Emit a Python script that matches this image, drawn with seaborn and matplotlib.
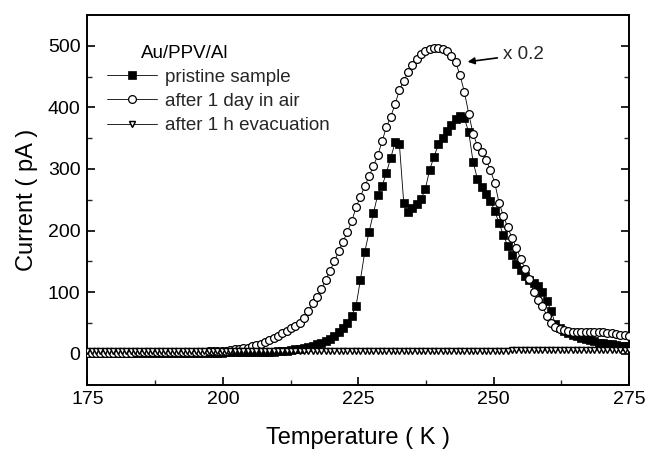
import numpy as np
import pandas as pd
import matplotlib
matplotlib.use("Agg")
import matplotlib.pyplot as plt
import seaborn as sns

# ---- data ----
temperature = np.linspace(175, 275, 126)  # measurement grid, 0.8 K steps

pristine = [
    1, 1, 1, 1, 1, 1, 1, 1, 1, 1,
    1, 1, 1, 1, 1, 1, 1, 1, 1, 1,
    1, 1, 1, 1, 1, 1, 1, 1, 1, 1,
    1, 1, 2, 2, 2, 2, 2, 2, 2, 2,
    2, 3, 3, 3, 4, 5, 5, 6, 7, 8,
    10, 11, 13, 15, 17, 20, 24, 29, 35, 42,
    50, 62, 78, 120, 165, 198, 228, 258, 272, 294,
    318, 343, 340, 245, 230, 237, 243, 251, 268, 299,
    320, 340, 350, 361, 372, 381, 386, 382, 360, 312,
    284, 270, 260, 248, 232, 212, 193, 175, 160, 146,
    136, 126, 119, 115, 110, 100, 86, 70, 48, 42,
    37, 33, 30, 28, 26, 24, 22, 20, 18, 17,
    16, 15, 14, 13, 13, 12,
]

air_day = [
    1, 1, 1, 1, 1, 1, 1, 1, 1, 1,
    1, 2, 2, 2, 2, 2, 2, 2, 2, 2,
    2, 2, 3, 3, 3, 3, 3, 3, 4, 4,
    4, 5, 5, 6, 7, 8, 9, 10, 12, 14,
    16, 19, 22, 25, 29, 33, 37, 41, 45, 50,
    58, 70, 82, 92, 105, 120, 135, 150, 167, 182,
    198, 215, 238, 255, 272, 288, 305, 322, 345, 368,
    385, 405, 428, 443, 457, 468, 478, 487, 492, 495,
    496, 496, 494, 491, 484, 473, 452, 425, 390, 357,
    338, 327, 315, 298, 278, 245, 224, 205, 188, 172,
    154, 137, 122, 100, 88, 78, 62, 50, 44, 40,
    38, 37, 36, 36, 36, 35, 35, 36, 36, 35,
    34, 33, 32, 31, 30, 29,
]

evacuated = [
    4, 4, 4, 4, 4, 4, 4, 4, 4, 4,
    4, 4, 4, 4, 4, 4, 4, 4, 4, 4,
    4, 4, 4, 4, 4, 4, 4, 4, 4, 4,
    4, 4, 4, 4, 4, 4, 4, 4, 4, 4,
    4, 4, 4, 4, 4, 4, 4, 4, 4, 4,
    5, 5, 5, 5, 5, 5, 5, 5, 5, 5,
    5, 5, 5, 5, 5, 5, 5, 5, 5, 5,
    5, 5, 5, 5, 5, 5, 5, 5, 5, 5,
    5, 5, 5, 5, 5, 5, 5, 5, 5, 5,
    5, 5, 5, 5, 5, 5, 5, 5, 6, 6,
    6, 6, 6, 6, 6, 6, 6, 6, 6, 6,
    6, 6, 6, 6, 6, 6, 6, 6, 6, 6,
    6, 6, 6, 6, 6, 6,
]

series_labels = ["pristine sample", "after 1 day in air", "after 1 h evacuation"]
x_ticks = [175, 200, 225, 250, 275]
y_ticks = [0, 100, 200, 300, 400, 500]

# ---- style ----
sns.set_theme(style="ticks")
plt.rcParams["font.family"] = ["Liberation Sans", "DejaVu Sans"]

fig = plt.figure(figsize=(6.47, 4.49), dpi=100)
ax = fig.add_axes([0.1352, 0.1436, 0.8370, 0.8230])

df = pd.DataFrame({"T": temperature, "pristine": pristine,
                   "air": air_day, "evac": evacuated})

sns.lineplot(data=df, x="T", y="pristine", ax=ax, color="black", lw=0.6,
             marker="s", markersize=5.3, markerfacecolor="black",
             markeredgecolor="black", markeredgewidth=0.5,
             label=series_labels[0], zorder=2)
sns.lineplot(data=df, x="T", y="air", ax=ax, color="black", lw=0.6,
             marker="o", markersize=5.6, markerfacecolor="white",
             markeredgecolor="black", markeredgewidth=0.9,
             label=series_labels[1], zorder=3)
sns.lineplot(data=df, x="T", y="evac", ax=ax, color="black", lw=0.6,
             marker="v", markersize=4.8, markerfacecolor="white",
             markeredgecolor="black", markeredgewidth=1.05,
             label=series_labels[2], zorder=4)

ax.set_xlim(175, 275)
ax.set_ylim(-50, 550)
ax.set_xticks(x_ticks)
ax.set_yticks(y_ticks)
ax.set_xticks(np.arange(187.5, 275, 25), minor=True)
ax.set_yticks(np.arange(50, 550, 100), minor=True)
ax.set_xticklabels([str(v) for v in x_ticks])
ax.set_yticklabels([str(v) for v in y_ticks])

for s in ax.spines.values():
    s.set_visible(True)
    s.set_linewidth(1.4)
    s.set_color("black")

ax.tick_params(which="major", direction="in", length=6, width=1.2,
               labelsize=14, pad=5, right=True, top=False, colors="black")
ax.tick_params(which="minor", direction="in", length=3.5, width=1.0,
               right=True, top=False)

ax.set_xlabel("Temperature ( K )", fontsize=17, labelpad=13, color="black")
ax.set_ylabel("Current ( pA )", fontsize=17, labelpad=7, color="black")

leg = ax.legend(loc="upper left", bbox_to_anchor=(0.036, 0.855),
                frameon=False, fontsize=13.5, handlelength=2.67,
                handletextpad=0.43, labelspacing=0.38, borderpad=0,
                borderaxespad=0)
ax.text(0.098, 0.896, "Au/PPV/Al", transform=ax.transAxes, fontsize=13.5,
        ha="left", va="center", color="black")

ax.annotate("x 0.2", xy=(245.2, 474), xytext=(251.8, 486),
            fontsize=13.5, ha="left", va="center",
            arrowprops=dict(arrowstyle="-|>", color="black", lw=1.2,
                            mutation_scale=10, shrinkA=2, shrinkB=0))

fig.savefig("out.png", dpi=100, facecolor="white")
